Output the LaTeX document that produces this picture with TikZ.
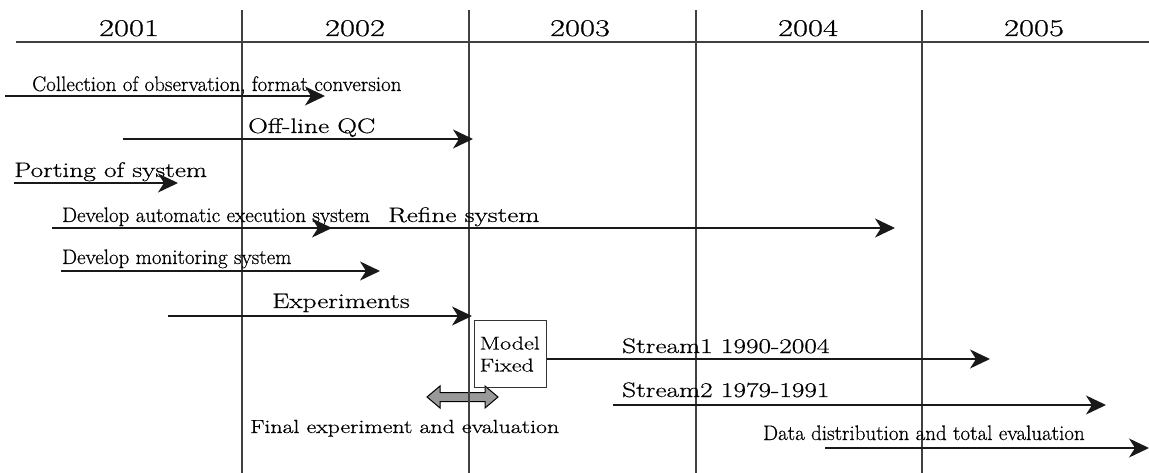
\documentclass[tikz,border=0pt]{standalone}
\usepackage{fontspec}
\setmainfont{Latin Modern Roman}[FakeBold=0.5]
\usetikzlibrary{arrows.meta}
\newcommand\widetxt[1]{\scalebox{1.3}[1]{#1}}
\tikzset{
  grid/.style={line width=1.3pt, black!75},
  ln/.style={line width=1.6pt, black!90},
  arr/.style={ln, -{Stealth[length=20pt,width=19pt,inset=6pt]}},
  cond/.style={anchor=base west, inner sep=0, font=\fontsize{21}{24}\selectfont},
  wlab/.style={anchor=base west, inner sep=0, font=\fontsize{21}{24}\selectfont},
  yr/.style={anchor=base, inner sep=0, font=\fontsize{24}{28}\selectfont},
}
\begin{document}
\begin{tikzpicture}[x=1pt,y=-1pt]
\useasboundingbox (0,0) rectangle (1149,473);
% final experiment double arrow (drawn under the grid)
\filldraw[draw=black, line width=1pt, fill=black!40]
  (427,397) -- (440,386) -- (440,392.5) -- (485,392.5) -- (485,386) -- (498,397)
  -- (485,408) -- (485,401.5) -- (440,401.5) -- (440,408) -- cycle;
% grid
\coordinate (hL) at (16,42); \coordinate (hR) at (1149,42);
\draw[grid] (hL) -- (hR);
\foreach \n/\x in {a/242,b/469,c/696,d/922}{
  \coordinate (v\n t) at (\x,10); \coordinate (v\n b) at (\x,473);
  \draw[grid] (v\n t) -- (v\n b);
}
% years
\node[yr] (y1) at (129,36) {\scalebox{1.36}[1]{2001}};
\node[yr] (y2) at (355,36) {\scalebox{1.36}[1]{2002}};
\node[yr] (y3) at (580,36) {\scalebox{1.36}[1]{2003}};
\node[yr] (y4) at (808,36) {\scalebox{1.36}[1]{2004}};
\node[yr] (y5) at (1034,36) {\scalebox{1.36}[1]{2005}};
% collection
\node[cond] (tcol) at (32,91) {Collection of observation, format conversion};
\coordinate (c1s) at (5,96); \coordinate (c1e) at (325,96);
\draw[arr] (c1s) -- (c1e);
% off-line QC
\node[wlab] (tqc) at (248,133) {\widetxt{Off-line QC}};
\coordinate (c2s) at (123,139); \coordinate (c2e) at (473,139);
\draw[arr] (c2s) -- (c2e);
% porting
\node[wlab] (tport) at (14,177) {\widetxt{Porting of system}};
\coordinate (c3s) at (14,183); \coordinate (c3e) at (178,183);
\draw[arr] (c3s) -- (c3e);
% automatic execution + refine
\node[cond] (tauto) at (62,222) {Develop automatic execution system};
\node[wlab] (tref) at (388,222) {\widetxt{Refine system}};
\coordinate (c4s) at (52,228); \coordinate (c4m) at (332,228); \coordinate (c4e) at (895,228);
\draw[arr] (c4s) -- (c4e);
\draw[arr] (c4s) -- (c4m);
% monitoring
\node[cond] (tmon) at (62,264) {Develop monitoring system};
\coordinate (c5s) at (61,271); \coordinate (c5e) at (380,271);
\draw[arr] (c5s) -- (c5e);
% experiments
\node[wlab] (texp) at (272,308) {\widetxt{Experiments}};
\coordinate (c6s) at (168,316); \coordinate (c6e) at (472,316);
\draw[arr] (c6s) -- (c6e);
% model fixed box
\node[draw, line width=1.3pt, black!80, text=black, text width=62pt, minimum height=67pt,
      inner xsep=5pt, inner ysep=0pt, anchor=north west,
      font=\fontsize{18.5}{22}\selectfont, align=left] (box) at (474,320)
  {\widetxt{Model}\\\widetxt{Fixed}};
% streams
\node[wlab] (ts1) at (622,353) {\widetxt{Stream1 1990-2004}};
\coordinate (c7e) at (990,359);
\draw[arr] (box.east |- c7e) -- (c7e);
\node[wlab] (ts2) at (622,397) {\widetxt{Stream2 1979-1991}};
\coordinate (c8s) at (613,405); \coordinate (c8e) at (1106,405);
\draw[arr] (c8s) -- (c8e);
% final experiment label
\node[wlab, font=\fontsize{19}{22}\selectfont] (tfin) at (250,433) {\scalebox{1.25}[1]{Final experiment and evaluation}};
% data distribution
\node[cond] (tdat) at (763,440) {Data distribution and total evaluation};
\coordinate (c9s) at (825,448); \coordinate (c9e) at (1149,448);
\draw[arr] (c9s) -- (c9e);
\end{tikzpicture}
\end{document}
